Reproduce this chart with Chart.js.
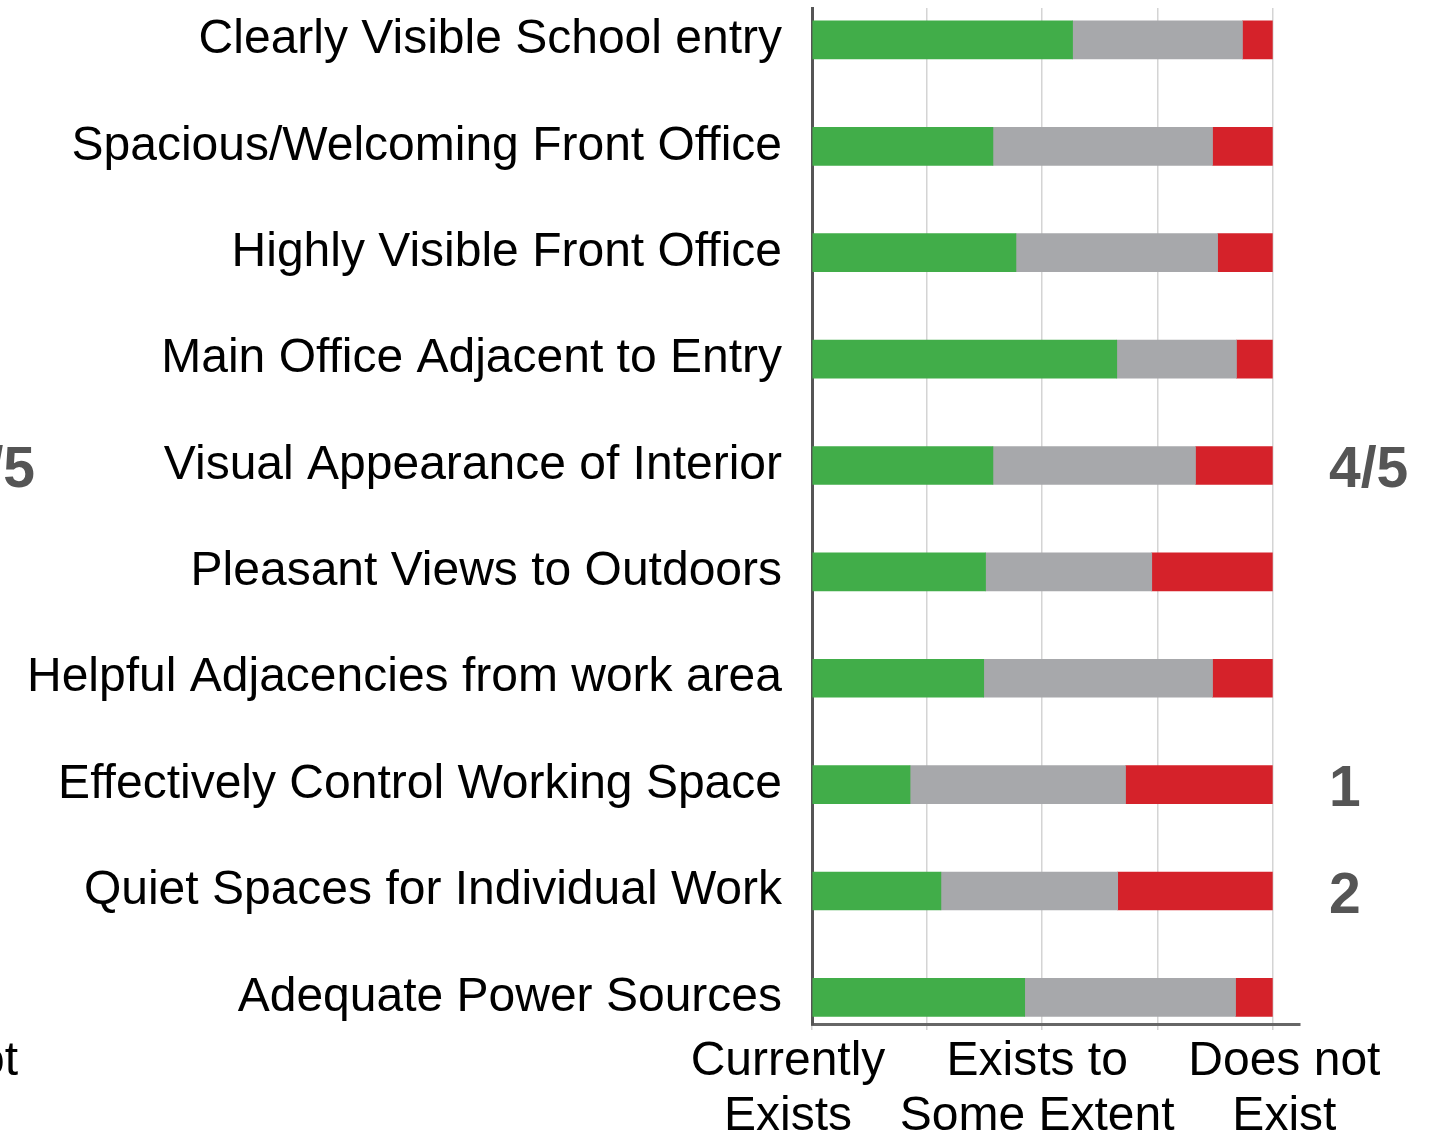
<!DOCTYPE html>
<html>
<head>
<meta charset="utf-8">
<script src="https://cdn.jsdelivr.net/npm/chart.js@4.4.0/dist/chart.umd.min.js"></script>
<style>
  html, body { margin: 0; padding: 0; background: #fff; }
  #wrap { width: 1439px; height: 1136px; position: relative; }
</style>
</head>
<body>
<div id="wrap"><canvas id="myChart"></canvas></div>
<script>
var categories = [
    'Clearly Visible School entry',
    'Spacious/Welcoming Front Office',
    'Highly Visible Front Office',
    'Main Office Adjacent to Entry',
    'Visual Appearance of Interior',
    'Pleasant Views to Outdoors',
    'Helpful Adjacencies from work area',
    'Effectively Control Working Space',
    'Quiet Spaces for Individual Work',
    'Adequate Power Sources'
]
// percent of responses
var currentlyExists = [56.6, 39.3, 44.3, 66.2, 39.3, 37.7, 37.3, 21.3, 28.0, 46.2]
var existsSomeExtent = [36.9, 47.7, 43.8, 26.0, 44.0, 36.1, 49.7, 46.8, 38.4, 45.8]
var doesNotExist = [6.5, 13.0, 11.9, 7.8, 16.7, 26.2, 13.0, 31.9, 33.6, 8.0]
var xTicks = [0, 25, 50, 75, 100]
var xLabels = [['Currently', 'Exists'], ['Exists to', 'Some Extent'], ['Does not', 'Exist']]
var xLabelValues = [0, 50, 100]
// side notes next to some rows
var notes = [{ row: 4, text: '4/5' }, { row: 7, text: '1' }, { row: 8, text: '2' }]

var FONT = '"Liberation Sans", Arial, Helvetica, sans-serif'

function toPoints(arr) {
    return arr.map(function (v, i) { return { x: v, y: i } })
}

// text drawn outside the plot: bottom axis labels and the side notes
const extraText = {
    id: 'extraText',
    afterDraw(chart) {
        const ctx = chart.ctx
        const xs = chart.scales.x
        const ys = chart.scales.y
        const shift = [-24, -5, 12]
        ctx.save()
        ctx.fillStyle = '#000'
        ctx.font = '48px ' + FONT
        ctx.textAlign = 'center'
        ctx.textBaseline = 'alphabetic'
        xLabels.forEach(function (lines, i) {
            const px = xs.getPixelForValue(xLabelValues[i]) + shift[i]
            lines.forEach(function (t, j) {
                ctx.fillText(t, px, 1075 + j * 55)
            })
        })
        // piece of the neighbouring figure, cut at the left edge
        ctx.textAlign = 'right'
        ctx.fillText('Does not', 18, 1075)

        ctx.fillStyle = '#555'
        ctx.font = 'bold 57px ' + FONT
        ctx.textBaseline = 'middle'
        ctx.textAlign = 'left'
        notes.forEach(function (n) {
            ctx.fillText(n.text, 1329, ys.getPixelForValue(n.row) + 6)
        })
        ctx.textAlign = 'right'
        ctx.fillText('4/5', 35, ys.getPixelForValue(4) + 6)
        ctx.restore()
    }
}

const ctx = document.getElementById('myChart').getContext('2d')
const myChart = new Chart(ctx, {
    type: 'bar',
    data: {
        datasets: [{
            label: 'Currently Exists',
            data: toPoints(currentlyExists),
            backgroundColor: '#41ad49'
        },
        {
            label: 'Exists to Some Extent',
            data: toPoints(existsSomeExtent),
            backgroundColor: '#a7a8ab'
        },
        {
            label: 'Does not Exist',
            data: toPoints(doesNotExist),
            backgroundColor: '#d5222a'
        }]
    },
    options: {
        indexAxis: 'y',
        responsive: true,
        maintainAspectRatio: false,
        animation: false,
        layout: { padding: { top: 8, right: 139, left: 0, bottom: 0 } },
        datasets: { bar: { barThickness: 38, borderWidth: 0 } },
        plugins: {
            legend: { display: false },
            tooltip: { enabled: false }
        },
        scales: {
            x: {
                type: 'linear',
                stacked: true,
                min: 0,
                max: 106,
                afterBuildTicks: function (scale) {
                    scale.ticks = xTicks.map(function (v) { return { value: v } })
                },
                afterFit: function (scale) {
                    scale.height = 112
                    scale.paddingLeft = 0
                    scale.paddingRight = 0
                },
                ticks: { display: false },
                grid: { color: '#d4d4d4', lineWidth: 1.5, drawTicks: true, tickLength: 6 },
                border: { color: '#666', width: 3 }
            },
            y: {
                type: 'linear',
                stacked: true,
                reverse: true,
                offset: false,
                min: -0.3,
                max: 9.25,
                afterBuildTicks: function (scale) {
                    scale.ticks = categories.map(function (c, i) { return { value: i } })
                },
                afterFit: function (scale) {
                    scale.width = 812
                    scale.paddingTop = 0
                    scale.paddingBottom = 0
                },
                ticks: {
                    padding: 30,
                    color: '#000',
                    font: { size: 48, family: FONT },
                    autoSkip: false,
                    callback: function (v) { return categories[v] }
                },
                grid: { display: false, drawTicks: false, offset: false },
                border: { color: '#555', width: 3 }
            }
        }
    },
    plugins: [extraText]
})
</script>
</body>
</html>
